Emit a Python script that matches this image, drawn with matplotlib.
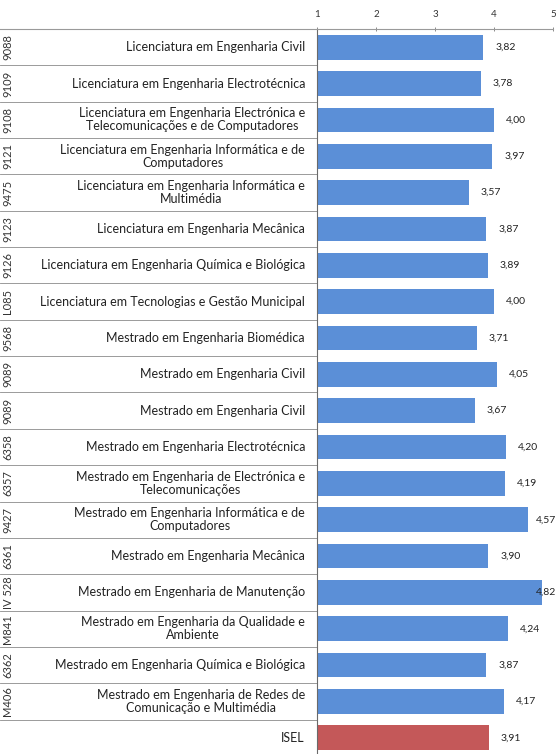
import matplotlib
matplotlib.use("Agg")
import matplotlib.pyplot as plt
import matplotlib.transforms as mtransforms

codes = ["9088", "9109", "9108", "9121", "9475", "9123", "9126", "L085", "9568", "9089",
         "9089", "6358", "6357", "9427", "6361", "IV 528", "M841", "6362", "M406", ""]
categories = [
    "Licenciatura em Engenharia Civil",
    "Licenciatura em Engenharia Electrotécnica",
    "Licenciatura em Engenharia Electrónica e\nTelecomunicações e de Computadores",
    "Licenciatura em Engenharia Informática e de\nComputadores",
    "Licenciatura em Engenharia Informática e\nMultimédia",
    "Licenciatura em Engenharia Mecânica",
    "Licenciatura em Engenharia Química e Biológica",
    "Licenciatura em Tecnologias e Gestão Municipal",
    "Mestrado em Engenharia Biomédica",
    "Mestrado em Engenharia Civil",
    "Mestrado em Engenharia Civil",
    "Mestrado em Engenharia Electrotécnica",
    "Mestrado em Engenharia de Electrónica e\nTelecomunicações",
    "Mestrado em Engenharia Informática e de\nComputadores",
    "Mestrado em Engenharia Mecânica",
    "Mestrado em Engenharia de Manutenção",
    "Mestrado em Engenharia da Qualidade e\nAmbiente",
    "Mestrado em Engenharia Química e Biológica",
    "Mestrado em Engenharia de Redes de\nComunicação e Multimédia",
    "ISEL",
]
values = [3.82, 3.78, 4.00, 3.97, 3.57, 3.87, 3.89, 4.00, 3.71, 4.05,
          3.67, 4.20, 4.19, 4.57, 3.90, 4.82, 4.24, 3.87, 4.17, 3.91]
ticks = [1, 2, 3, 4, 5]

BLUE = "#5B8FD7"
RED = "#C45859"
FONT = "Lato"

W, H = 560, 754
fig = plt.figure(figsize=(W / 100, H / 100), dpi=100)
ax_left = 317 / W
ax_right = 553 / W
ax_top = 1 - 29 / H
ax_bottom = -2 / H
ax = fig.add_axes([ax_left, ax_bottom, ax_right - ax_left, ax_top - ax_bottom])

n = len(values)
ypos = list(range(n))
colors = [BLUE] * (n - 1) + [RED]
ax.barh(ypos, [v - 1 for v in values], left=1, height=0.68, color=colors, edgecolor="none")
ax.set_xlim(1, 5)
ax.set_ylim(n - 0.5, -0.5)

for s in ["right", "bottom"]:
    ax.spines[s].set_visible(False)
ax.spines["top"].set_color("#9a9a9a")
ax.spines["top"].set_linewidth(0.8)
ax.spines["left"].set_color("#6a6a6a")
ax.spines["left"].set_linewidth(0.8)
ax.xaxis.tick_top()
ax.set_xticks(ticks)
ax.set_xticklabels([str(t) for t in ticks], fontsize=7, family=FONT, color="#333333")
ax.tick_params(axis="x", length=3, width=0.6, color="#777777", direction="inout", pad=6)
ax.set_yticks([])

trans = mtransforms.blended_transform_factory(fig.transFigure, ax.transData)

# top line extends across label area
fig.add_artist(plt.Line2D([0, ax_left], [ax_top, ax_top], transform=fig.transFigure,
                          color="#9a9a9a", lw=0.8))

fig.canvas.draw()
max_label_x = 536  # px: keep value labels inside the figure
for i, (code, cat, v) in enumerate(zip(codes, categories, values)):
    ax.text(305 / W, i, cat, transform=trans, ha="right", va="center",
            multialignment="center", fontsize=9, family=FONT, color="#222222",
            linespacing=1.1)
    if code:
        ax.text(8 / W, i, code, transform=trans, ha="center", va="center",
                rotation=90, fontsize=8, family=FONT, color="#333333")
    end_px = ax.transData.transform((v, i))[0]
    lab_px = min(end_px + 12, max_label_x)
    ax.text(lab_px / W, i, f"{v:.2f}".replace(".", ","), transform=trans,
            ha="left", va="center", fontsize=7.5, family=FONT, color="#222222")
    if i < n - 1:
        ax.plot([0, ax_left], [i + 0.5, i + 0.5], transform=trans, color="#8a8a8a",
                lw=0.6, clip_on=False)

fig.savefig("out.png", dpi=100, facecolor="white")
